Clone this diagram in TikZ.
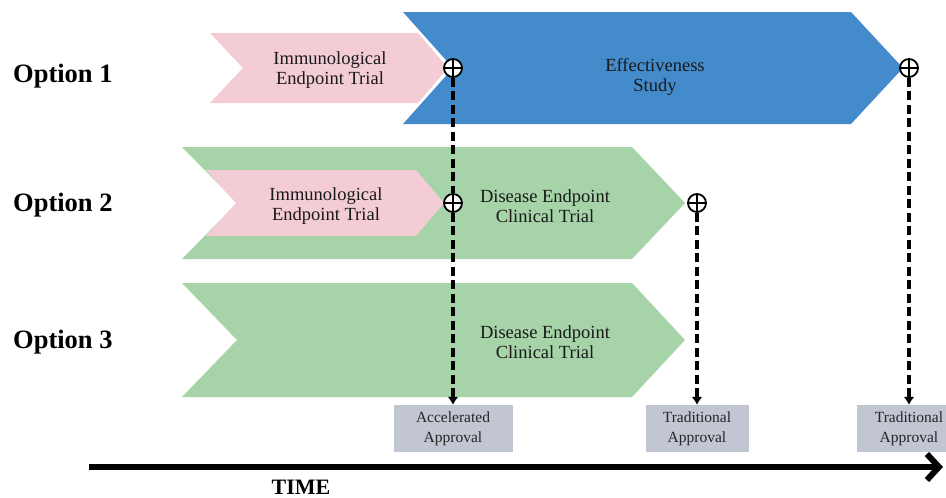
\documentclass[tikz,border=0pt]{standalone}
\usepackage{fontspec}
\setmainfont{Liberation Serif}
\usetikzlibrary{arrows.meta,positioning,backgrounds}

\definecolor{immpink}{RGB}{244,204,214}
\definecolor{effblue}{RGB}{67,139,202}
\definecolor{disgreen}{RGB}{166,212,168}
\definecolor{apprgray}{RGB}{194,198,210}

\tikzset{
	optlabel/.style={anchor=base west, inner sep=0pt, font=\bfseries\fontsize{26.5}{30}\selectfont},
	trialtext/.style={align=center, text=black!90, font=\fontsize{18.5}{20.5}\selectfont},
	apprbox/.style={fill=apprgray, minimum height=47pt, inner sep=0pt, align=center, text=black!85, font=\fontsize{15.5}{20}\selectfont},
	milestone/.style={circle, draw, fill=white, line width=1.8pt, minimum size=18pt, inner sep=0pt,
		path picture={\draw[line width=1.8pt] (path picture bounding box.north) -- (path picture bounding box.south)
			(path picture bounding box.west) -- (path picture bounding box.east);}},
	dashline/.style={line width=3.4pt, dash pattern=on 9pt off 4.5pt},
	flow/.style={dashline, -{Latex[length=8pt,width=11pt]}},
}

\begin{document}
\begin{tikzpicture}[x=1pt, y=-1pt]
		
		\useasboundingbox (0,0) rectangle (946,498);
		\clip (0,0) rectangle (946,498);
		
		\begin{scope}[on background layer]
			\fill[white] (0,0) rectangle (946,498);
			
			\fill[immpink] (210,33) -- (418,33) -- (448,68) -- (418,103) -- (210,103) -- (243,68) -- cycle;
			\fill[effblue] (403,12) -- (851,12) -- (903,68) -- (851,124) -- (403,124) -- (453,68) -- cycle;
			
			\fill[disgreen] (182,147) -- (632,147) -- (685,203) -- (632,259) -- (182,259) -- (237,203) -- cycle;
			\fill[immpink] (206,170) -- (416,170) -- (444,203) -- (416,236) -- (206,236) -- (236,203) -- cycle;
			
			\fill[disgreen] (182,283) -- (632,283) -- (685,340) -- (632,397) -- (182,397) -- (237,340) -- cycle;
		\end{scope}
		
		\node (opt1) at (13,82)[optlabel] {Option 1};
		\node (opt2) at (13,211)[optlabel] {Option 2};
		\node (opt3) at (13,348)[optlabel] {Option 3};
		
		\node (imm1) at (330,70)[trialtext] {Immunological\\Endpoint Trial};
		\node (eff) at (655,77)[trialtext] {Effectiveness\\Study};
		\node (imm2) at (326,206)[trialtext] {Immunological\\Endpoint Trial};
		\node (dis2) at (545,206)[trialtext] {Disease Endpoint\\Clinical Trial};
		\node (dis3) at (545,342)[trialtext] {Disease Endpoint\\Clinical Trial};
		
		\node (acc) at (453,428.5)[apprbox, minimum width=119pt] {Accelerated\\Approval};
		\node (trad1) at (697,428.5)[apprbox, minimum width=103pt] {Traditional\\Approval};
		\node (trad2) at (909,428.5)[apprbox, minimum width=104pt] {Traditional\\Approval};
		
		\node (m1) at (453,68)[milestone] {};
		\node (m2) at (453,203)[milestone] {};
		\node (m3) at (697,203)[milestone] {};
		\node (m4) at (909,68)[milestone] {};
		
		\draw[dashline] (m1) -- (m2);
		\draw[flow] (m2) -- (acc);
		\draw[flow] (m3) -- (trad1);
		\draw[flow] (m4) -- (trad2);
		
		\coordinate (tstart) at (89,467);
		\coordinate (tend) at (943,467);
		\draw[line width=6pt, -{Straight Barb[length=12pt,width=26pt]}] (tstart) -- (tend);
		\node (time) at (301,494)[anchor=base, inner sep=0pt, font=\bfseries\fontsize{22}{24}\selectfont] {TIME};
		
	\end{tikzpicture}
\end{document}
